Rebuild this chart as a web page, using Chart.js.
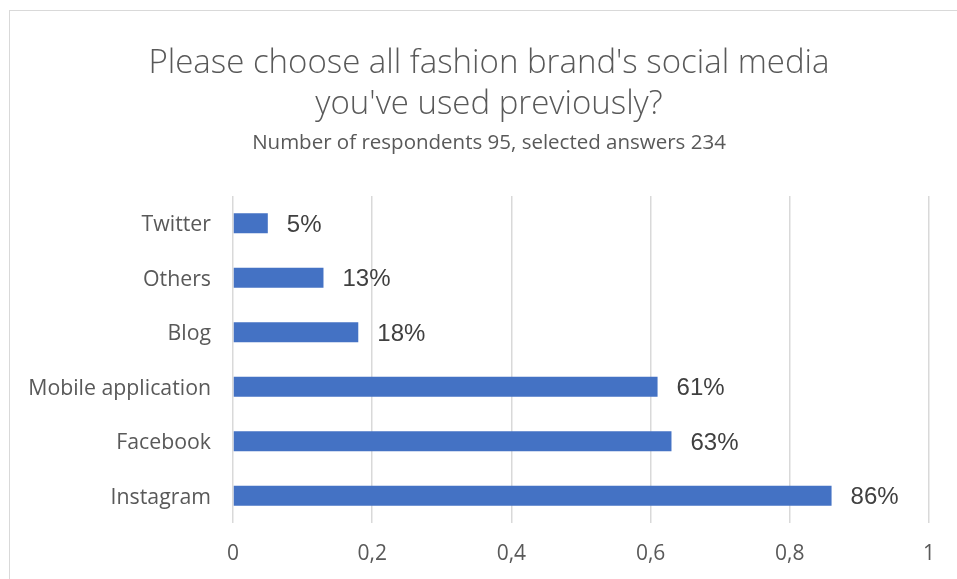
<!DOCTYPE html>
<html>
<head>
<meta charset="utf-8">
<script src="https://cdn.jsdelivr.net/npm/chart.js@4.4.1/dist/chart.umd.min.js"></script>
<style>
  body { margin: 0; background: #fff; overflow: hidden; width: 957px; height: 579px; position: relative; }
  #frame { position: absolute; left: 9px; top: 10px; width: 960px; height: 580px; border: 1px solid #d9d9d9; box-sizing: border-box; }
  #chart1 { position: absolute; left: 0; top: 0; }
</style>
</head>
<body>
<div id="frame"></div>
<canvas id="chart1" width="978" height="579"></canvas>
<script>
var categories = ['Twitter', 'Others', 'Blog', 'Mobile application', 'Facebook', 'Instagram'];
var shares = [0.05, 0.13, 0.18, 0.61, 0.63, 0.86];
var shareLabels = ['5%', '13%', '18%', '61%', '63%', '86%'];
var xTicks = [0, 0.2, 0.4, 0.6, 0.8, 1];

var titleLines = ["Please choose all fashion brand's social media", "you've used previously?"];
var subtitleText = 'Number of respondents 95, selected answers 234';

// draws the percent next to each bar
var barLabels = {
    id: 'barLabels',
    afterDatasetsDraw: function(chart) {
        var ctx = chart.ctx;
        var meta = chart.getDatasetMeta(0);
        ctx.save();
        ctx.font = '24px "Liberation Sans", Arial, sans-serif';
        ctx.fillStyle = '#404040';
        ctx.textAlign = 'left';
        ctx.textBaseline = 'middle';
        meta.data.forEach(function(bar, i) {
            ctx.fillText(shareLabels[i], bar.x + 19, bar.y + 2);
        });
        ctx.restore();
    }
};

var ctx = document.getElementById('chart1');
var myChart = new Chart(ctx, {
    type: 'bar',
    data: {
        labels: categories,
        datasets: [{
            data: shares,
            backgroundColor: '#4472c4',
            barPercentage: 0.73,
            categoryPercentage: 0.5
        }]
    },
    options: {
        indexAxis: 'y',
        responsive: false,
        animation: false,
        events: [],
        layout: { padding: { left: 0, right: 0, top: 43, bottom: 0 } },
        plugins: {
            legend: { display: false },
            tooltip: { enabled: false },
            title: {
                display: true,
                text: titleLines,
                color: '#595959',
                font: { family: '"Open Sans", sans-serif', size: 33, weight: '300', lineHeight: 1.242 },
                padding: { top: 0, bottom: 6 }
            },
            subtitle: {
                display: true,
                text: subtitleText,
                color: '#595959',
                font: { family: '"Open Sans", sans-serif', size: 20.5, weight: '400', lineHeight: 1.22 },
                padding: { top: 0, bottom: 40 }
            }
        },
        scales: {
            x: {
                min: 0,
                max: 1,
                afterBuildTicks: function(scale) {
                    scale.ticks = xTicks.map(function(v) { return { value: v }; });
                },
                afterFit: function(scale) { scale.height = 56; },
                grid: { color: '#d9d9d9', lineWidth: 1.5, drawTicks: false },
                border: { display: false },
                ticks: {
                    color: '#595959',
                    padding: 18,
                    font: { family: '"Open Sans", sans-serif', size: 21 },
                    callback: function(value) {
                        return String(Number(value.toFixed(1))).replace('.', ',');
                    }
                }
            },
            y: {
                afterFit: function(scale) { scale.width = 233; },
                grid: { display: false, drawTicks: false },
                border: { display: false },
                ticks: {
                    color: '#595959',
                    padding: 22,
                    labelOffset: 2,
                    font: { family: '"Open Sans", sans-serif', size: 21.3 }
                }
            },
            // empty right-hand strip, keeps the plot edge at the frame's inner margin
            yRight: {
                type: 'linear',
                position: 'right',
                afterFit: function(scale) { scale.width = 49; },
                grid: { display: false, drawTicks: false },
                border: { display: false },
                ticks: { display: false }
            }
        }
    },
    plugins: [barLabels]
});
</script>
</body>
</html>
